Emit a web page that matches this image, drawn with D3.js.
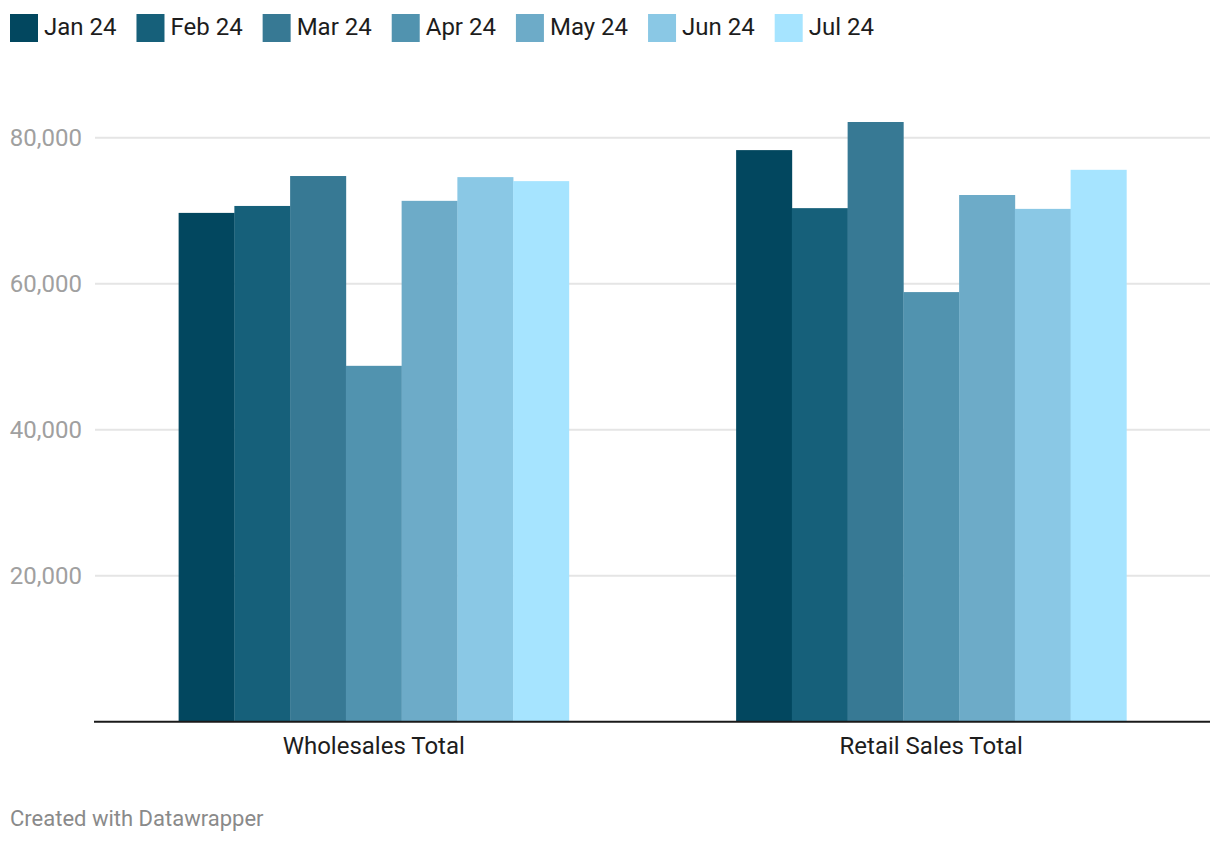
<!DOCTYPE html>
<html>
<head>
<meta charset="utf-8">
<script src="https://cdn.jsdelivr.net/npm/d3@7"></script>
<style>
  html, body { margin: 0; padding: 0; background: #fff; }
  svg { display: block; font-family: Roboto, "Noto Sans", sans-serif; }
</style>
</head>
<body>
<svg id="chart" width="1220" height="844"></svg>
<script>
const categories = ["Wholesales Total", "Retail Sales Total"];
const months = ["Jan 24", "Feb 24", "Mar 24", "Apr 24", "May 24", "Jun 24", "Jul 24"];
const wholesales = [69700, 70650, 74750, 48750, 71350, 74600, 74050];
const retail = [78300, 70350, 82150, 58850, 72150, 70250, 75600];
const colors = ["#02475f", "#16607a", "#377994", "#5193af", "#6dabc8", "#8ac8e5", "#a6e4ff"];
const yTicks = [20000, 40000, 60000, 80000];

const seriesByCategory = [wholesales, retail];

const svg = d3.select("#chart");
const margin = { left: 95, right: 10, top: 60, bottom: 122 };
const W = 1220, H = 844;

const x0 = d3.scaleBand().domain(categories).range([margin.left, W - margin.right])
  .paddingInner(0.3).paddingOuter(0.15);
const x1 = d3.scaleBand().domain(months).range([0, x0.bandwidth()]).padding(0);
const y = d3.scaleLinear().domain([0, 80000]).range([721.7, 137.7]);

// gridlines
svg.append("g").selectAll("line").data(yTicks).join("line")
  .attr("x1", margin.left).attr("x2", W - margin.right)
  .attr("y1", d => y(d)).attr("y2", d => y(d))
  .attr("stroke", "#e5e5e5").attr("stroke-width", 2);

// y tick labels
svg.append("g").selectAll("text").data(yTicks).join("text")
  .attr("x", 82).attr("y", d => y(d)).attr("dy", "0.35em")
  .attr("text-anchor", "end").attr("fill", "#a0a0a0")
  .attr("font-size", 24)
  .text(d => d3.format(",")(d));

// bars
const groups = svg.append("g").selectAll("g").data(categories).join("g")
  .attr("transform", d => `translate(${x0(d)},0)`);
groups.selectAll("rect").data((d, i) => seriesByCategory[i].map((v, j) => ({ m: months[j], v, c: colors[j] })))
  .join("rect")
  .attr("x", d => x1(d.m))
  .attr("width", x1.bandwidth() + 0.3)
  .attr("y", d => y(d.v))
  .attr("height", d => y(0) - y(d.v))
  .attr("fill", d => d.c);

// baseline
svg.append("line")
  .attr("x1", 94).attr("x2", W - margin.right)
  .attr("y1", y(0)).attr("y2", y(0))
  .attr("stroke", "#1a1a1a").attr("stroke-width", 2);

// x labels
svg.append("g").selectAll("text").data(categories).join("text")
  .attr("x", d => x0(d) + x0.bandwidth() / 2)
  .attr("y", 754)
  .attr("text-anchor", "middle").attr("fill", "#1d1d1d")
  .attr("font-size", 24)
  .text(d => d);

// legend
const legend = svg.append("g");
let lx = 10;
months.forEach((m, i) => {
  const g = legend.append("g");
  g.append("rect").attr("x", lx).attr("y", 14).attr("width", 28).attr("height", 28).attr("fill", colors[i]);
  const t = g.append("text").attr("x", lx + 34).attr("y", 34.5)
    .attr("fill", "#1d1d1d").attr("font-size", 24).text(m);
  const w = t.node().getComputedTextLength();
  lx = lx + 34 + w + 20;
});

// footer
svg.append("text").attr("x", 10).attr("y", 826)
  .attr("fill", "#8a8a8a").attr("font-size", 22)
  .text("Created with Datawrapper");
</script>
</body>
</html>
